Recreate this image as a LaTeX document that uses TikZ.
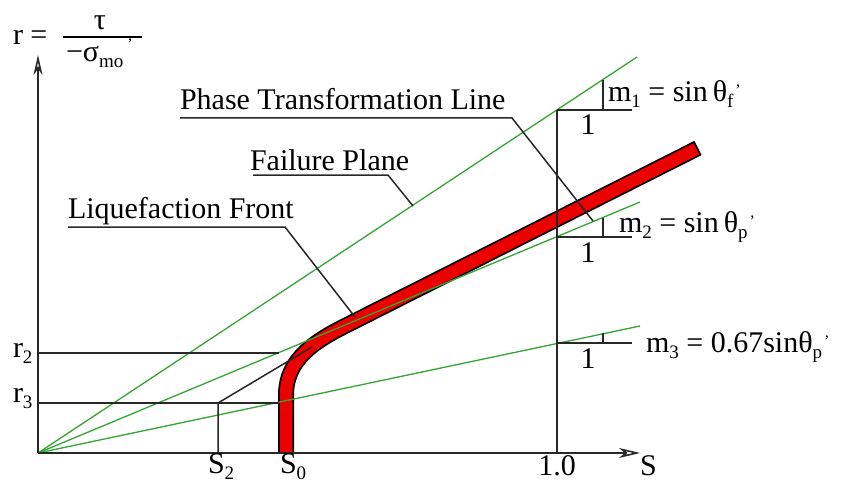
\documentclass[tikz,border=0pt]{standalone}
\usepackage{fontspec}
\setmainfont{Liberation Serif}
\usetikzlibrary{arrows.meta}
\definecolor{lgreen}{RGB}{50,165,50}
\definecolor{lred}{RGB}{235,0,0}
\definecolor{dgray}{RGB}{40,40,40}
\tikzset{
  blk/.style={draw=dgray,line width=1.5pt},
  grn/.style={draw=lgreen,line width=1.3pt},
  axisline/.style={draw=dgray,line width=1.6pt},
  lbl/.style={inner sep=0pt,outer sep=0pt,font=\fontsize{30}{36}\selectfont},
}
\newcommand{\sbs}[1]{\raisebox{-6pt}{\fontsize{19}{19}\selectfont #1}}
\newcommand{\pr}{\hspace{2pt}\raisebox{6pt}{\fontsize{16}{16}\selectfont '}}
\begin{document}
\begin{tikzpicture}[x=1pt,y=-1pt]
\useasboundingbox (0,0) rectangle (845,484);
% key points
\coordinate (O) at (38,453);
\coordinate (ytip) at (38,55);
\coordinate (xtip) at (640,453);
\coordinate (g1) at (637,57);
\coordinate (g2) at (640,202);
\coordinate (g3) at (640,326);
% red liquefaction path
\draw[draw=black,line width=16pt] (286,453) -- (286,395) .. controls (286,355) and (323,337) .. (353,322) -- (698,148);
\draw[draw=lred,line width=12.5pt,shorten >=1.8pt] (286,453) -- (286,395) .. controls (286,355) and (323,337) .. (353,322) -- (698,148);
% green lines
\draw[grn] (O) -- (g1);
\draw[grn] (O) -- (g2);
\draw[grn] (O) -- (g3);
% vertical at S=1.0
\coordinate (v1) at (557,110);
\coordinate (v0) at (557,453);
\draw[blk] (v1) -- (v0);
% slope triangles
\coordinate (h1a) at (557,110); \coordinate (h1b) at (632,110);
\coordinate (t1a) at (603,80); \coordinate (t1b) at (603,110);
\draw[blk] (h1a) -- (h1b); \draw[blk] (t1a) -- (t1b);
\coordinate (h2a) at (557,237); \coordinate (h2b) at (632,237);
\coordinate (t2a) at (603,218); \coordinate (t2b) at (603,237);
\draw[blk] (h2a) -- (h2b); \draw[blk] (t2a) -- (t2b);
\coordinate (h3a) at (557,343); \coordinate (h3b) at (632,343);
\coordinate (t3a) at (603,333); \coordinate (t3b) at (603,343);
\draw[blk] (h3a) -- (h3b); \draw[blk] (t3a) -- (t3b);
% r2, r3, S2 construction
\coordinate (r2a) at (38,353); \coordinate (r2b) at (279,353);
\coordinate (r3a) at (38,403); \coordinate (r3b) at (279,403);
\coordinate (s2a) at (218,453); \coordinate (s2b) at (218,403);
\coordinate (s2c) at (312,347);
\draw[blk] (r2a) -- (r2b);
\draw[blk] (r3a) -- (r3b);
\draw[blk] (s2a) -- (s2b) -- (s2c);
% axes
\draw[axisline,-{Stealth[open,length=20pt,width=9pt,inset=6pt]}] (O) -- (ytip);
\draw[axisline,-{Stealth[open,length=21pt,width=10pt,inset=6pt]}] (O) -- (xtip);
% callout labels
\node[lbl,anchor=base west] (ptl) at (180,110) {Phase Transformation Line};
\node[lbl,anchor=base west] (fp) at (250,170) {Failure Plane};
\node[lbl,anchor=base west] (lf) at (68,218) {Liquefaction Front};
\coordinate (ptlA) at (180,118); \coordinate (ptlB) at (512,118); \coordinate (ptlC) at (593,221);
\coordinate (fpA) at (253,175); \coordinate (fpB) at (388,175); \coordinate (fpC) at (413,206);
\coordinate (lfA) at (68,227); \coordinate (lfB) at (285,227); \coordinate (lfC) at (355,317);
\draw[blk] (ptlA) -- (ptlB) -- (ptlC);
\draw[blk] (fpA) -- (fpB) -- (fpC);
\draw[blk] (lfA) -- (lfB) -- (lfC);
% slope labels
\node[lbl,anchor=base west] (m1) at (608,102) {m\sbs{1} = sin\,θ\sbs{f}\pr};
\node[lbl,anchor=base west] (m2) at (619,232) {m\sbs{2} = sin\,θ\sbs{p}\pr};
\node[lbl,anchor=base west] (m3) at (646,352) {m\sbs{3} = 0.67sinθ\sbs{p}\pr};
\node[lbl,anchor=base] (one1) at (588,135) {1};
\node[lbl,anchor=base] (one2) at (588,262) {1};
\node[lbl,anchor=base] (one3) at (588,368) {1};
% axis labels
\node[lbl,anchor=base] (x10) at (557,475) {1.0};
\node[lbl,anchor=base west] (xS) at (640,475) {S};
\node[lbl,anchor=base west] (xS2) at (208,473) {S\sbs{2}};
\node[lbl,anchor=base west] (xS0) at (280,473) {S\sbs{0}};
\node[lbl,anchor=base west] (yr2) at (13,357) {r\sbs{2}};
\node[lbl,anchor=base west] (yr3) at (13,402) {r\sbs{3}};
% ordinate title
\node[lbl,anchor=base west] (yr) at (13,45) {r =};
\node[lbl,anchor=base] (ytau) at (100,30) {τ};
\node[lbl,anchor=center] (ybar) at (102.5,37) {\rule{79pt}{1.6pt}};
\node[lbl,anchor=base west] (yden) at (66,62) {−σ\sbs{mo}\hspace{4pt}\raisebox{12pt}{\fontsize{16}{16}\selectfont '}};
\end{tikzpicture}
\end{document}
